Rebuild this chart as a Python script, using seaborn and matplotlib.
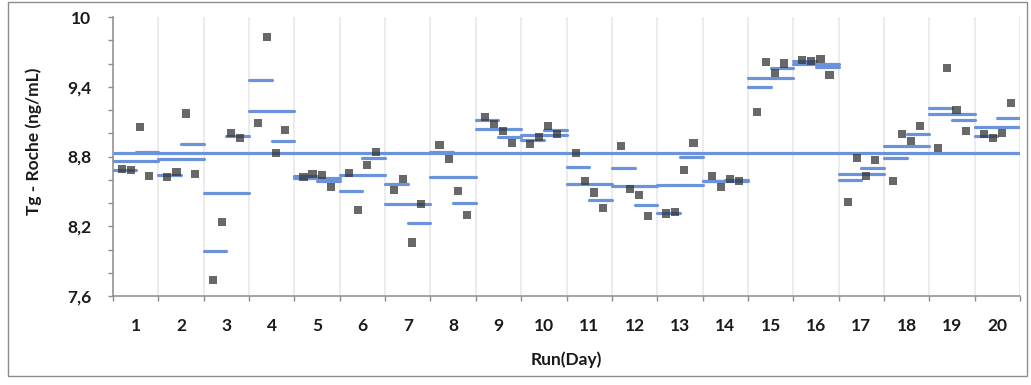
import matplotlib
matplotlib.use("Agg")
import matplotlib.pyplot as plt
from matplotlib.patches import Rectangle
from matplotlib.ticker import FixedLocator, FuncFormatter
import numpy as np
import pandas as pd
import seaborn as sns

# Tg (Roche) results, four replicates per run, 20 runs (days)
runs = list(range(1, 21))
rep1 = [8.69, 8.62, 7.74, 9.09, 8.62, 8.66, 8.51, 8.90, 9.14, 8.91,
        8.83, 8.89, 8.31, 8.63, 9.18, 9.63, 8.41, 8.59, 8.87, 8.99]
rep2 = [8.68, 8.67, 8.24, 9.83, 8.65, 8.34, 8.61, 8.78, 9.08, 8.97,
        8.59, 8.52, 8.32, 8.54, 9.61, 9.62, 8.79, 8.99, 9.56, 8.96]
rep3 = [9.05, 9.17, 9.00, 8.83, 8.64, 8.73, 8.06, 8.50, 9.02, 9.06,
        8.49, 8.47, 8.68, 8.61, 9.52, 9.64, 8.63, 8.93, 9.20, 9.00]
rep4 = [8.63, 8.65, 8.96, 9.03, 8.54, 8.84, 8.39, 8.30, 8.92, 8.99,
        8.36, 8.29, 8.92, 8.59, 9.60, 9.50, 8.77, 9.06, 9.02, 9.26]
y_ticks = [7.6, 8.2, 8.8, 9.4, 10.0]

BLUE = "#6b93dc"
SLOTS = 5  # each run occupies 5 x-units, replicates sit at 1..4

records = []
for k, rep in enumerate([rep1, rep2, rep3, rep4], start=1):
    for r, v in zip(runs, rep):
        records.append({"run": r, "rep": k, "value": v,
                        "x": SLOTS * (r - 1) + k,
                        "half": 1 if k <= 2 else 2})
df = pd.DataFrame(records)

sns.set_theme(style="white")
plt.rcParams["font.family"] = ["Lato", "DejaVu Sans"]

fig = plt.figure(figsize=(10.31, 3.85), dpi=100)
ax = fig.add_axes([113 / 1031, 1 - 296 / 385, 907 / 1031, 279 / 385])

# vertical separators between runs
for b in range(0, SLOTS * len(runs) + 1, SLOTS):
    ax.axvline(b, color="#ebebeb", lw=1.3, zorder=0)

# grand mean
grand = df["value"].mean()
ax.axhline(grand, color=BLUE, lw=2.3, zorder=2, solid_capstyle="butt")

# per-run means and per-half (duplicate pair) means
run_means = df.groupby("run")["value"].mean()
half_means = df.groupby(["run", "half"])["value"].mean()
segs_y, segs_x0, segs_x1 = [], [], []
for r, m in run_means.items():
    segs_y.append(m)
    segs_x0.append(SLOTS * (r - 1))
    segs_x1.append(SLOTS * r)
for (r, h), m in half_means.items():
    start = SLOTS * (r - 1) + (h - 1) * SLOTS / 2
    segs_y.append(m)
    segs_x0.append(start)
    segs_x1.append(start + SLOTS / 2)
lc = ax.hlines(segs_y, segs_x0, segs_x1, colors=BLUE, lw=2.3, zorder=3)
lc.set_capstyle("round")

# individual results
sns.scatterplot(data=df, x="x", y="value", ax=ax, marker="s", s=34,
                color="#353535", alpha=0.75, edgecolor="none", zorder=4,
                legend=False)

ax.set_xlim(0, SLOTS * len(runs))
ax.set_ylim(7.6, 10.0)


def comma_label(v, pos):
    if abs(v - round(v)) < 1e-9:
        return f"{int(round(v))}"
    return f"{v:.1f}".replace(".", ",")


ax.yaxis.set_major_locator(FixedLocator(y_ticks))
ax.yaxis.set_minor_locator(FixedLocator(np.arange(7.6, 10.01, 0.2)))
ax.yaxis.set_major_formatter(FuncFormatter(comma_label))

ax.xaxis.set_major_locator(FixedLocator(list(range(0, SLOTS * len(runs) + 1, SLOTS))))
ax.xaxis.set_major_formatter(FuncFormatter(lambda v, p: ""))
ax.xaxis.set_minor_locator(FixedLocator([SLOTS * (r - 1) + SLOTS / 2 for r in runs]))
ax.xaxis.set_minor_formatter(FuncFormatter(lambda v, p: str(int((v - SLOTS / 2) / SLOTS) + 1)))

axis_grey = "#8c8c8c"
for side in ["top", "right"]:
    ax.spines[side].set_visible(False)
for side in ["left", "bottom"]:
    ax.spines[side].set_color(axis_grey)
    ax.spines[side].set_linewidth(1.1)
    ax.spines[side].set_zorder(1)

FS = 12.5
ax.tick_params(axis="y", which="both", direction="out", length=3.5, width=1.0,
               color=axis_grey, left=True, labelsize=FS, pad=12,
               labelcolor="#1a1a1a")
ax.tick_params(axis="x", which="major", direction="out", length=3.5, width=1.0,
               color=axis_grey, bottom=True)
ax.tick_params(axis="x", which="minor", length=0, bottom=True, labelsize=FS,
               pad=16, labelcolor="#1a1a1a")
for lab in ax.get_yticklabels() + ax.get_xticklabels(minor=True):
    lab.set_fontweight("bold")

ax.set_xlabel("Run(Day)", fontsize=FS, fontweight="bold", color="#1a1a1a")
ax.xaxis.set_label_coords(0.5, -0.2)
ax.set_ylabel("Tg - Roche (ng/mL)", fontsize=FS, fontweight="bold", color="#1a1a1a")
ax.yaxis.set_label_coords(-0.078, 0.556)

# chart frame
fig.patches.append(Rectangle((8 / 1031, 1 - 376 / 385), 1019 / 1031, 374 / 385,
                             transform=fig.transFigure, fill=False,
                             edgecolor="#8c8c8c", lw=1.0))

fig.savefig("out.png", dpi=100)
